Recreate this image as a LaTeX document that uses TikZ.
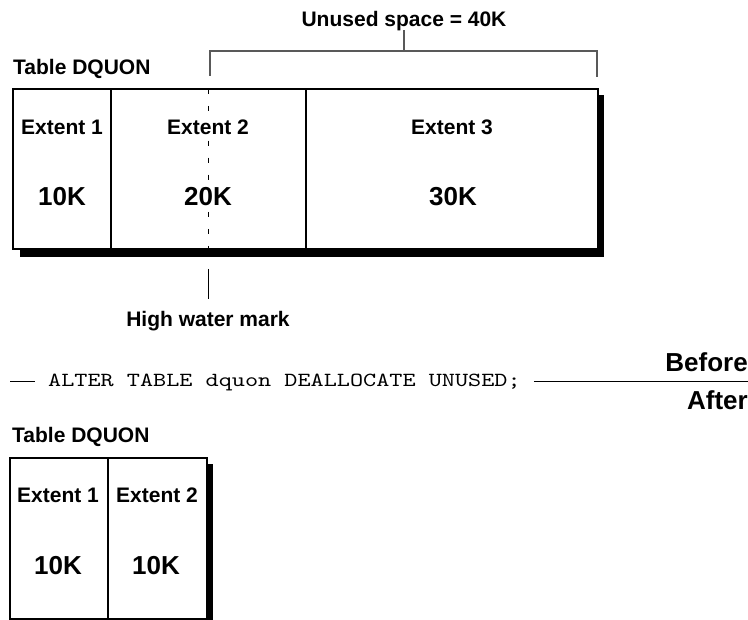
\documentclass[tikz,border=0pt]{standalone}
\usepackage{fontspec}
\setmainfont{Liberation Sans}
\newfontfamily\codefont[FakeStretch=1.25]{lmmono10-regular.otf}
\usepackage{tikz}
\usetikzlibrary{positioning}

\begin{document}
\begin{tikzpicture}[
  x=1pt, y=-1pt,
  lbl/.style={font=\fontsize{21}{24}\selectfont\bfseries, inner sep=0pt},
  big/.style={font=\fontsize{26}{30}\selectfont\bfseries, inner sep=0pt},
  box/.style={draw=black, line width=1.4pt, fill=white},
  sep/.style={draw=black, line width=1.4pt},
  brk/.style={draw=black!65, line width=1.1pt},
  hwm/.style={draw=black, line width=1pt, dash pattern=on 5pt off 12pt},
  gap/.style={fill=white, inner sep=6pt}
]
  \useasboundingbox (0,0) rectangle (748,620);

  % before: three extents
  \fill (20,95) rectangle (604,257);
  \draw[box] (13,89) rectangle (598,249);
  \draw[sep] (111,89) -- (111,249);
  \draw[sep] (306,89) -- (306,249);

  \node[lbl, anchor=base west] (tab1) at (13,75) {Table DQUON};

  \coordinate (hw top) at (208,89);
  \coordinate (hw bot) at (208,249);
  \coordinate (hw low) at (208,269);
  \coordinate (hw end) at (208,299);

  \node[lbl] (b e1) at (62,127) {Extent 1};
  \node[big] (b k1) at (62,196.5) {10K};
  \node[lbl, gap] (b e2) at (208,127) {Extent 2};
  \node[big, gap] (b k2) at (208,196.5) {20K};
  \node[lbl] (b e3) at (452,127) {Extent 3};
  \node[big] (b k3) at (453,196.5) {30K};

  \draw[hwm] (hw top) -- (b e2.north);
  \draw[hwm] (b e2.south) -- (b k2.north);
  \draw[hwm] (b k2.south) -- (hw bot);
  \draw[line width=1pt] (hw low) -- (hw end);
  \node[lbl, anchor=base] (hwlbl) at (208,327) {High water mark};

  % unused space bracket
  \node[lbl, anchor=base] (unused) at (404,27) {Unused space = 40K};
  \coordinate (brk l) at (210,76);
  \coordinate (brk r) at (597,77);
  \coordinate (brk m) at (404,51);
  \draw[brk] (brk l) |- (brk m) -| (brk r);
  \draw[brk] (brk m) -- (404,30);

  % statement rule
  \coordinate (rule l) at (10,382);
  \coordinate (rule r) at (748,382);
  \node[font=\codefont\fontsize{20}{24}\selectfont, inner xsep=13pt, inner ysep=0pt, anchor=west]
    (code) at (35,382) {ALTER TABLE dquon DEALLOCATE UNUSED;};
  \draw[line width=1pt] (rule l) -- (code.west);
  \draw[line width=1pt] (code.east) -- (rule r);
  \node[big, anchor=base east] (before) at (748,372) {Before};
  \node[big, anchor=base east] (after) at (748,410) {After};

  % after: two extents
  \fill (16,464) rectangle (213,626);
  \draw[box] (10,458) rectangle (207,619);
  \draw[sep] (108,458) -- (108,619);

  \node[lbl, anchor=base west] (tab2) at (12,443) {Table DQUON};
  \node[lbl] (a e1) at (58,495) {Extent 1};
  \node[big] (a k1) at (58,566) {10K};
  \node[lbl] (a e2) at (157,495) {Extent 2};
  \node[big] (a k2) at (156,566) {10K};
\end{tikzpicture}
\end{document}
